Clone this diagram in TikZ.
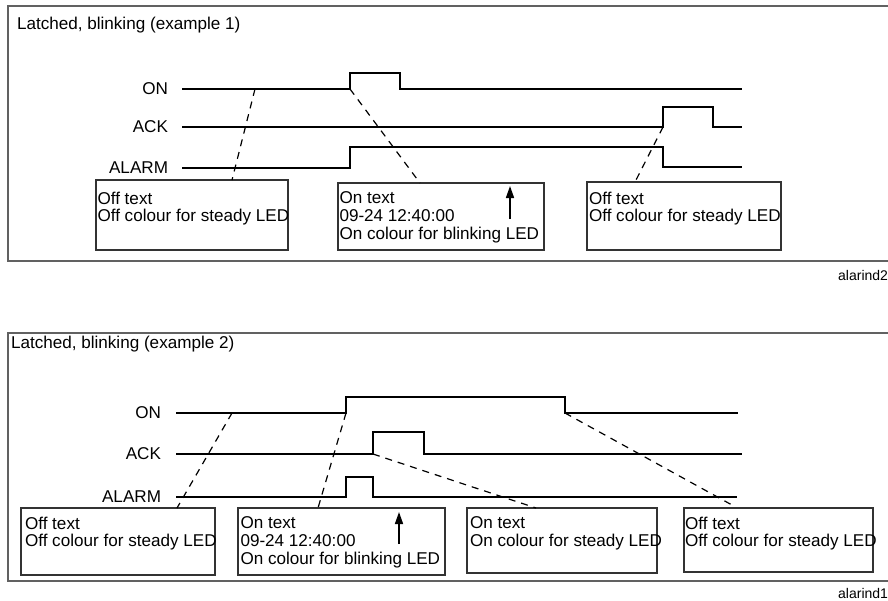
\documentclass[tikz,border=0pt]{standalone}
\usepackage{fontspec}
\setmainfont{Liberation Sans}
\usetikzlibrary{arrows.meta}
\begin{document}
\begin{tikzpicture}[x=1pt,y=-1pt,
  every node/.style={inner sep=0pt,outer sep=0pt},
  txt/.style={font=\fontsize{17.1}{17.6}\selectfont,align=left,anchor=north west},
  lbl/.style={font=\fontsize{17.1}{17.6}\selectfont,anchor=east},
  ttl/.style={font=\fontsize{17.1}{17.6}\selectfont,anchor=west},
  tag/.style={font=\fontsize{14}{16}\selectfont,anchor=east},
  frame/.style={draw=black!62,line width=1.1pt},
  infobox/.style={draw=black!80,line width=1.4pt,anchor=north west},
  sig/.style={line width=2.7pt,line join=miter,line cap=butt},
  dsh/.style={line width=1.2pt,dash pattern=on 7pt off 6pt},
  marker/.style={line width=1.6pt,-{Triangle[width=8pt,length=12pt]}}]
\useasboundingbox (0,0) rectangle (888,600);
\fill[white] (0,0) rectangle (888,600);

% ===== Panel 1 =====
\draw[frame] (888,6) -- (8,6) -- (8,261) -- (888,261);
\node[ttl] (t1) at (17,25) {Latched, blinking (example 1)};
\node[tag] (g1) at (888,275) {alarind2};

\node[lbl] (on1) at (168,89) {ON};
\node[lbl] (ack1) at (168,127) {ACK};
\node[lbl] (al1) at (168,168) {ALARM};

\coordinate (on1a) at (182,89);
\coordinate (on1r) at (350,89);
\coordinate (on1e) at (742,89);
\coordinate (ack1a) at (182,127);
\coordinate (ack1r) at (663,127);
\coordinate (ack1e) at (742,127);
\coordinate (al1a) at (182,168);
\coordinate (al1e) at (742,167);

\draw[sig] (on1a) -- (on1r) -- (350,73) -- (400,73) -- (400,89) -- (on1e);
\draw[sig] (ack1a) -- (ack1r) -- (663,107) -- (713,107) -- (713,127) -- (ack1e);
\draw[sig] (al1a) -- (350,168) -- (350,147) -- (663,147) -- (663,167) -- (al1e);

\node[infobox,minimum width=192pt,minimum height=70pt] (b11) at (96,180) {};
\node[infobox,minimum width=206pt,minimum height=67pt] (b12) at (338,183) {};
\node[infobox,minimum width=194pt,minimum height=68pt] (b13) at (587,182) {};

\node[txt] (x11) at (97.5,192) {Off text\\Off colour for steady LED};
\node[txt] (x12) at (339.5,192) {On text\\09-24 12:40:00\\On colour for blinking LED};
\node[txt] (x13) at (589,192) {Off text\\Off colour for steady LED};

\coordinate (d11a) at (255,89);
\coordinate (d11b) at (232,180);
\coordinate (d12b) at (420,183);
\coordinate (d13b) at (635,182);
\draw[dsh] (d11a) -- (d11b);
\draw[dsh] (on1r) -- (d12b);
\draw[dsh] (ack1r) -- (d13b);

\coordinate (m1a) at (510,219);
\coordinate (m1b) at (510,186);
\draw[marker] (m1a) -- (m1b);

% ===== Panel 2 =====
\draw[frame] (888,333) -- (8,333) -- (8,581) -- (888,581);
\node[ttl] (t2) at (11,344) {Latched, blinking (example 2)};
\node[tag] (g2) at (888,593) {alarind1};

\node[lbl] (on2) at (161,413) {ON};
\node[lbl] (ack2) at (161,454) {ACK};
\node[lbl] (al2) at (161,497) {ALARM};

\coordinate (on2a) at (176,413);
\coordinate (on2r) at (346,413);
\coordinate (on2f) at (565,413);
\coordinate (on2e) at (738,413);
\coordinate (ack2a) at (176,454);
\coordinate (ack2r) at (373,454);
\coordinate (ack2e) at (742,454);
\coordinate (al2a) at (176,497);
\coordinate (al2e) at (737,497);

\draw[sig] (on2a) -- (on2r) -- (346,397) -- (565,397) -- (on2f) -- (on2e);
\draw[sig] (ack2a) -- (ack2r) -- (373,432) -- (424,432) -- (424,454) -- (ack2e);
\draw[sig] (al2a) -- (346,497) -- (346,477) -- (373,477) -- (373,497) -- (al2e);

\node[infobox,minimum width=194pt,minimum height=67pt] (b21) at (21,508) {};
\node[infobox,minimum width=207pt,minimum height=67pt] (b22) at (238,508) {};
\node[infobox,minimum width=190pt,minimum height=65pt] (b23) at (467,508) {};
\node[infobox,minimum width=189pt,minimum height=64pt] (b24) at (684,508) {};

\node[txt] (x21) at (25,517) {Off text\\Off colour for steady LED};
\node[txt] (x22) at (240.5,517) {On text\\09-24 12:40:00\\On colour for blinking LED};
\node[txt] (x23) at (470,517) {On text\\On colour for steady LED};
\node[txt] (x24) at (685,517) {Off text\\Off colour for steady LED};

\coordinate (d21a) at (232,413);
\coordinate (d21b) at (177,508);
\coordinate (d22b) at (318,508);
\coordinate (d23b) at (536,508);
\coordinate (d24b) at (732,505);
\draw[dsh] (d21a) -- (d21b);
\draw[dsh] (on2r) -- (d22b);
\draw[dsh] (ack2r) -- (d23b);
\draw[dsh] (on2f) -- (d24b);

\coordinate (m2a) at (399,544);
\coordinate (m2b) at (399,512);
\draw[marker] (m2a) -- (m2b);
\end{tikzpicture}
\end{document}
